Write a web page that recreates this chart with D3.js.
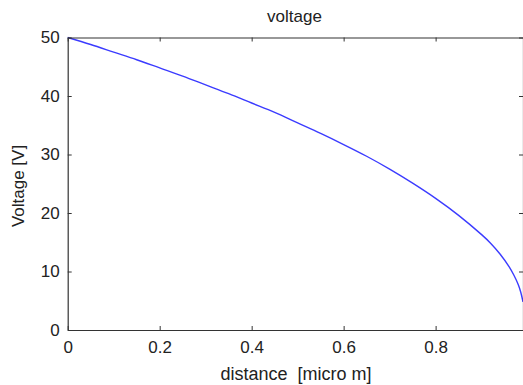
<!DOCTYPE html>
<html>
<head>
<meta charset="utf-8">
<script src="https://cdn.jsdelivr.net/npm/d3@7"></script>
<style>
  body { margin: 0; background: #fff; }
  svg { display: block; }
  text { font-family: Arial, "Liberation Sans", sans-serif; fill: #222; }
</style>
</head>
<body>
<svg id="chart" width="523" height="385"></svg>
<script>
// distance along the device (micro m) and voltage
const distance = [0, 0.05, 0.1, 0.15, 0.2, 0.25, 0.3, 0.35, 0.4, 0.45, 0.5, 0.55, 0.6,
                  0.65, 0.7, 0.75, 0.8, 0.85, 0.9, 0.92, 0.94, 0.96, 0.97, 0.98, 0.985, 0.99];
const voltage  = [50, 48.8, 47.5, 46.2, 44.8, 43.4, 41.9, 40.4, 38.8, 37.2, 35.4, 33.6, 31.7,
                  29.7, 27.5, 25.1, 22.5, 19.6, 16.3, 14.8, 13.0, 10.8, 9.4, 7.7, 6.5, 4.8];
const xTicks = [0, 0.2, 0.4, 0.6, 0.8];
const yTicks = [0, 10, 20, 30, 40, 50];

const svg = d3.select("#chart");
const m = { left: 67.7, right: 523, top: 37.5, bottom: 330 };

const x = d3.scaleLinear().domain([0, 0.99]).range([m.left, m.right]);
const y = d3.scaleLinear().domain([0, 50]).range([m.bottom, m.top]);

const data = distance.map((d, i) => ({ x: d, v: voltage[i] }));

// curve
svg.append("path")
    .datum(data)
    .attr("fill", "none")
    .attr("stroke", "#3b3bff")
    .attr("stroke-width", 1.4)
    .attr("d", d3.line()
      .x(d => x(d.x))
      .y(d => y(d.v))
      .curve(d3.curveCatmullRom.alpha(0.5)));

// axes, ticks pointing inward
function styleAxis(g) {
  g.selectAll(".domain").attr("stroke", "#333").attr("stroke-width", 1.2);
  g.selectAll(".tick line").attr("stroke", "#333");
  g.selectAll(".tick text").style("font-size", "17px").attr("fill", "#333");
}

svg.append("g")
    .attr("transform", "translate(0," + m.bottom + ")")
    .call(d3.axisBottom(x).tickValues(xTicks).tickFormat(d3.format("")).tickSize(-4).tickSizeOuter(0).tickPadding(11))
    .call(styleAxis);

svg.append("g")
    .attr("transform", "translate(0," + m.top + ")")
    .call(d3.axisTop(x).tickValues(xTicks).tickFormat("").tickSize(-4).tickSizeOuter(0))
    .call(styleAxis);

svg.append("g")
    .attr("transform", "translate(" + m.left + ",0)")
    .call(d3.axisLeft(y).tickValues(yTicks).tickSize(-4).tickSizeOuter(0).tickPadding(8))
    .call(styleAxis);

svg.append("g")
    .attr("transform", "translate(" + m.right + ",0)")
    .call(d3.axisRight(y).tickValues(yTicks).tickFormat("").tickSize(-4).tickSizeOuter(0))
    .call(styleAxis);

// title and labels
svg.append("text")
    .attr("x", 294.5)
    .attr("y", 22)
    .attr("text-anchor", "middle")
    .style("font-size", "17px")
    .text("voltage");

svg.append("text")
    .attr("x", 296)
    .attr("y", 380)
    .attr("text-anchor", "middle")
    .style("font-size", "18px")
    .style("white-space", "pre")
    .text("distance  [micro m]");

svg.append("text")
    .attr("transform", "translate(24,186) rotate(-90)")
    .attr("text-anchor", "middle")
    .style("font-size", "17px")
    .text("Voltage [V]");
</script>
</body>
</html>
